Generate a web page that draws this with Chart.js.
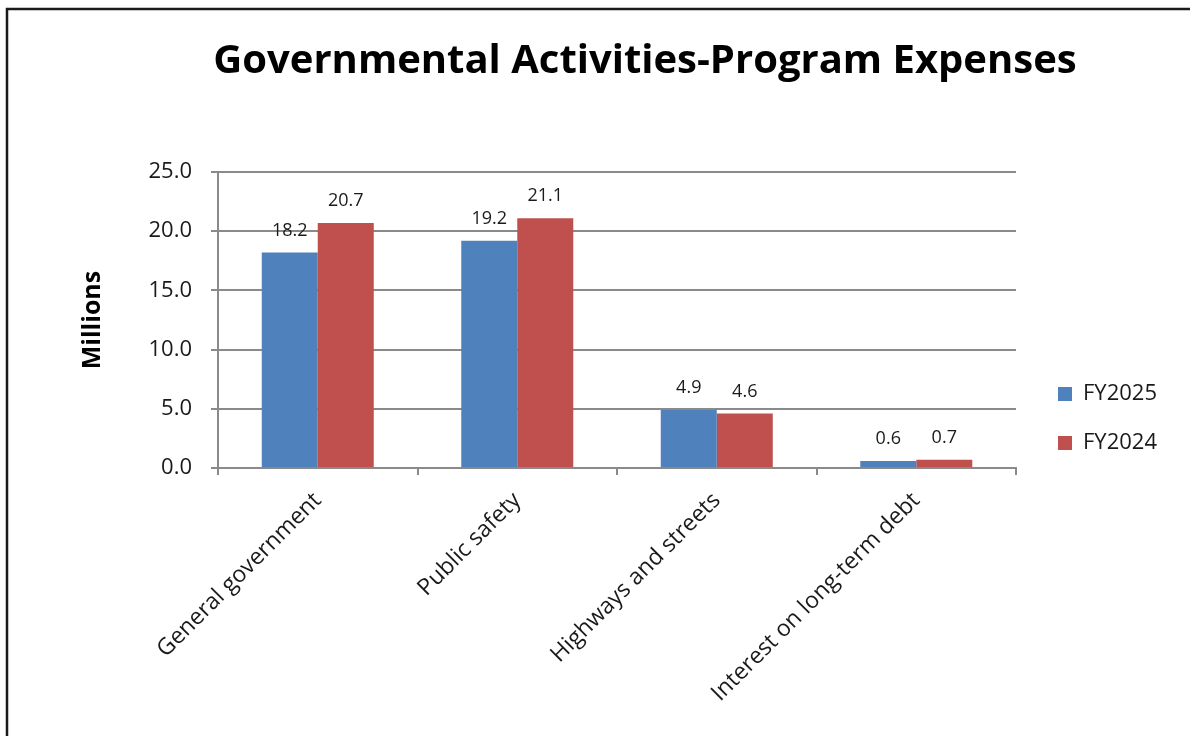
<!DOCTYPE html>
<html>
<head>
<meta charset="utf-8">
<script src="https://cdn.jsdelivr.net/npm/chart.js@4/dist/chart.umd.min.js"></script>
<style>
  html, body { margin: 0; padding: 0; background: #ffffff; }
  #wrap { width: 1190px; height: 736px; position: relative; }
</style>
</head>
<body>
<div id="wrap"><canvas id="c" width="1190" height="736"></canvas></div>
<script>
const chartTitle = "Governmental Activities-Program Expenses";
const categories = ["General government", "Public safety", "Highways and streets", "Interest on long-term debt"];
const seriesNames = ["FY2025", "FY2024"];
const fy2025 = [18.2, 19.2, 4.9, 0.6];
const fy2024 = [20.7, 21.1, 4.6, 0.7];
const yAxisTitle = "Millions";
const yMin = 0, yMax = 25, yStep = 5;

const FONT = "'Open Sans', 'Noto Sans', sans-serif";
const GRID = '#8a8a8a';
const TXT = '#1a1a1a';

const framePlugin = {
  id: 'frame',
  beforeDraw(chart) {
    const ctx = chart.ctx;
    ctx.save();
    ctx.fillStyle = '#ffffff';
    ctx.fillRect(0, 0, chart.width, chart.height);
    ctx.strokeStyle = '#1a1a1a';
    ctx.lineWidth = 2.5;
    ctx.strokeRect(7, 9, 1400, 1000);
    ctx.restore();
  }
};

const placePlugin = {
  id: 'place',
  afterLayout(chart) {
    const t = chart.titleBlock;
    if (t) { t.left = 100; t.right = 1190; }
    const lg = chart.legend;
    if (lg) {
      const pad = lg.options.labels.padding;
      const w = lg.right - lg.left;
      lg.left = 1058 - pad; lg.right = lg.left + w;
      const h = lg.bottom - lg.top;
      lg.top = 383 - pad; lg.bottom = lg.top + h;
    }
  }
};

const valueLabels = {
  id: 'valueLabels',
  afterDatasetsDraw(chart) {
    const ctx = chart.ctx;
    ctx.save();
    ctx.font = "18px " + FONT;
    ctx.fillStyle = TXT;
    ctx.textAlign = 'center';
    ctx.textBaseline = 'middle';
    chart.data.datasets.forEach((ds, di) => {
      const meta = chart.getDatasetMeta(di);
      meta.data.forEach((el, i) => {
        ctx.fillText(Number(ds.data[i]).toFixed(1), el.x, el.y - 22);
      });
    });
    ctx.restore();
  }
};

new Chart(document.getElementById('c'), {
  type: 'bar',
  data: {
    labels: categories,
    datasets: [
      { label: seriesNames[0], data: fy2025, backgroundColor: '#4F81BD', categoryPercentage: 0.5614, barPercentage: 1.0 },
      { label: seriesNames[1], data: fy2024, backgroundColor: '#C0504D', categoryPercentage: 0.5614, barPercentage: 1.0 }
    ]
  },
  options: {
    responsive: false,
    animation: false,
    layout: { padding: { left: 0, right: 38, top: 0, bottom: 0 } },
    plugins: {
      title: {
        display: true,
        text: chartTitle,
        font: { family: FONT, size: 40, weight: 'bold' },
        color: '#000000',
        padding: { top: 38, bottom: 86 }
      },
      legend: {
        display: true,
        position: 'right',
        align: 'start',
        labels: {
          boxWidth: 14, boxHeight: 14, padding: 27,
          font: { family: FONT, size: 22 },
          color: TXT
        }
      },
      tooltip: { enabled: false }
    },
    scales: {
      x: {
        offset: true,
        grid: { display: true, offset: true, drawOnChartArea: false, drawTicks: true, tickLength: 7, color: GRID, lineWidth: 2 },
        border: { display: true, color: GRID, width: 2 },
        ticks: { minRotation: 45, maxRotation: 45, autoSkip: false, padding: 12, color: TXT, font: { family: FONT, size: 23 } },
        afterFit(scale) { scale.height = 268; }
      },
      y: {
        min: yMin, max: yMax,
        grid: { color: GRID, lineWidth: 2, tickLength: 7, drawTicks: true },
        border: { display: true, color: GRID, width: 2 },
        ticks: { stepSize: yStep, padding: 19, color: TXT, font: { family: FONT, size: 22 },
          callback: (v) => Number(v).toFixed(1) },
        title: { display: true, text: yAxisTitle, color: '#000000', font: { family: FONT, size: 25, weight: 'bold' }, padding: { top: 78, bottom: 0 } },
        afterFit(scale) { scale.width = 218; }
      }
    }
  },
  plugins: [framePlugin, placePlugin, valueLabels]
});
</script>
</body>
</html>
